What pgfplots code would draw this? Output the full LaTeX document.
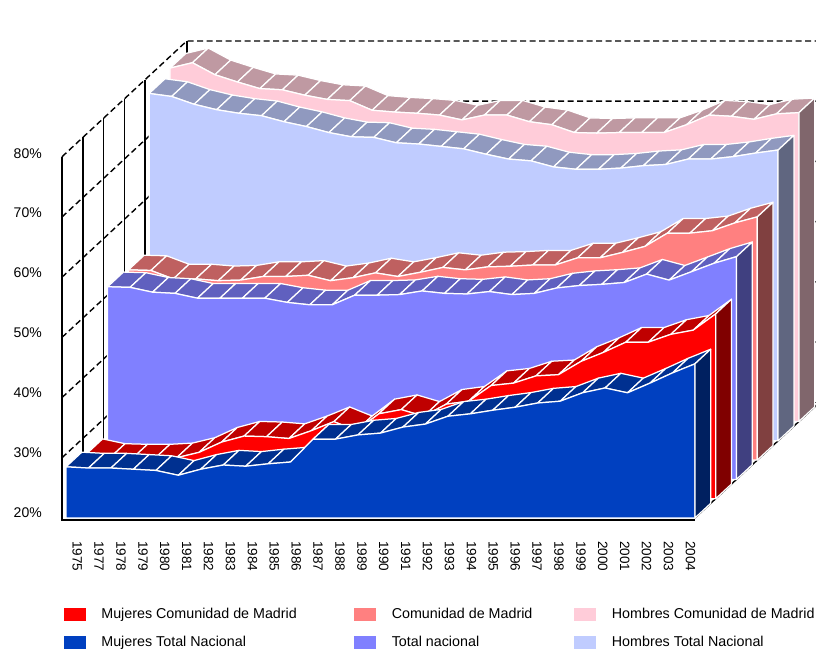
\documentclass[border=0pt]{standalone}
\usepackage{fontspec}
\setmainfont{Liberation Sans}
\usepackage{pgfplots}
\usepackage{pgfplotstable}
\pgfplotsset{compat=1.18}
\definecolor{cPink}{HTML}{FFCCD9}\definecolor{tPink}{HTML}{BF99A2}\definecolor{sPink}{HTML}{80666C}
\definecolor{cLBlue}{HTML}{C0CCFF}\definecolor{tLBlue}{HTML}{9099BF}\definecolor{sLBlue}{HTML}{606680}
\definecolor{cSalm}{HTML}{FF8080}\definecolor{tSalm}{HTML}{BF6060}\definecolor{sSalm}{HTML}{804040}
\definecolor{cViol}{HTML}{8080FF}\definecolor{tViol}{HTML}{6060BF}\definecolor{sViol}{HTML}{404080}
\definecolor{cRed}{HTML}{FF0000}\definecolor{tRed}{HTML}{BF0000}\definecolor{sRed}{HTML}{800000}
\definecolor{cBlue}{HTML}{0040C0}\definecolor{tBlue}{HTML}{003090}\definecolor{sBlue}{HTML}{002060}
\pgfplotstableread{
i mt mm tn cm ht hm
0 28.5 27.5 52.0 51.6 77.7 78.7
1 28.3 26.7 51.9 51.5 77.2 79.6
2 28.3 26.6 51.1 50.1 75.9 77.6
3 28.1 26.6 50.9 50.1 75.0 76.4
4 27.9 26.8 50.1 49.8 74.4 75.3
5 27.1 27.7 50.1 49.9 74.0 75.1
6 28.1 29.4 50.1 50.5 73.0 74.2
7 28.8 30.4 50.1 50.5 72.2 73.5
8 28.6 30.3 49.4 50.7 71.2 73.3
9 29.0 30.0 49.0 49.8 70.5 71.7
10 29.3 31.3 49.0 50.3 70.4 71.4
11 33.1 32.8 50.6 51.1 69.5 71.2
12 33.1 31.3 50.6 50.5 69.3 70.9
13 33.8 34.1 50.7 51.2 68.9 70.1
14 34.1 34.8 51.3 52.0 68.5 70.9
15 35.1 33.7 50.9 51.6 67.6 70.9
16 35.6 35.7 50.8 52.1 66.8 69.8
17 36.9 36.2 51.2 52.2 66.5 69.3
18 37.3 38.8 50.7 52.4 65.5 68.0
19 37.9 39.2 50.9 52.4 65.1 67.9
20 38.4 40.4 51.8 53.6 65.1 68.0
21 39.1 40.6 52.2 53.6 65.3 68.0
22 39.4 42.8 52.4 54.5 65.7 68.0
23 40.8 44.3 52.7 55.5 65.9 69.3
24 41.6 46.0 54.1 57.7 66.8 70.9
25 40.8 46.0 53.1 57.7 66.8 70.7
26 42.4 47.3 54.5 58.1 67.2 70.2
27 44.1 48.0 55.9 59.4 67.8 71.1
28 45.6 50.7 57.0 60.4 68.3 71.3
}\datatable
\newcommand\series[5]{% column, depth, face, top, side
  \pgfmathsetmacro\kb{#2+0.76}
  \pgfplotsforeachungrouped \i in {0,...,27}{%
    \pgfmathtruncatemacro\j{\i+1}%
    \pgfplotstablegetelem{\i}{#1}\of\datatable\let\va\pgfplotsretval
    \pgfplotstablegetelem{\j}{#1}\of\datatable\let\vb\pgfplotsretval
    \edef\temp{\noexpand\addplot3[fill=#4,draw=white,line width=1.25pt,line join=round,forget plot] coordinates {(\i,#2,\va)(\j,#2,\vb)(\j,\kb,\vb)(\i,\kb,\va)} -- cycle;}%
    \temp
  }%
  \addplot3[fill=#3,draw=white,line width=1.25pt,line join=round,forget plot] table[x=i,y expr=#2,z=#1]{\datatable} -- (axis cs:28,#2,20) -- (axis cs:0,#2,20) -- cycle;
  \edef\temp{\noexpand\addplot3[fill=#5,draw=white,line width=1.25pt,line join=round,forget plot] coordinates {(28,#2,20)(28,\kb,20)(28,\kb,\vb)(28,#2,\vb)} -- cycle;}%
  \temp
}
\begin{document}
\begin{tikzpicture}
\useasboundingbox (0pt,0pt) rectangle (816pt,-650pt);
\begin{axis}[
  anchor=origin, at={(66pt,-638.4pt)},
  x={(22.46pt,0pt)}, y={(20.8pt,19.3pt)}, z={(0pt,6.02pt)},
  xmin=0, xmax=28, ymin=0, ymax=6, zmin=0, zmax=90,
  hide axis, clip=false,
  font=\fontsize{14}{16}\selectfont,
  legend columns=3,
  legend cell align=left,
  legend style={at={(axis cs:-0.1,0,0)},anchor=north west,draw=none,fill=none,inner sep=0pt,
    yshift=31pt,
    row sep=16pt,
    font=\fontsize{14.3}{16}\selectfont,
    /tikz/column 2/.style={column sep=57.5pt},
    /tikz/column 4/.style={column sep=42pt},
    nodes={inner sep=0pt,anchor=west}},
]
% grid
\pgfplotsinvokeforeach{30,40,50,60,70,80}{
  \addplot3[black,line width=1.4pt,dash pattern=on 6pt off 3.5pt,forget plot] coordinates {(-0.18,0,#1)(-0.18,6,#1)(28,6,#1)};
}
\pgfplotsinvokeforeach{1,2,3,4,6}{
  \addplot3[black,line width=1.7pt,forget plot] coordinates {(-0.18,#1,19.7)(-0.18,#1,80)};
}
\addplot3[black,line width=1.4pt,forget plot] coordinates {(-0.18,6,20)(28,6,20)};
\addplot3[black,line width=1.4pt,forget plot] coordinates {(28,0,20)(28,6,20)};
\addplot3[black,line width=2pt,forget plot] coordinates {(-0.18,0,80)(-0.18,0,19.7)(28,0,19.7)};
\series{hm}{5}{cPink}{tPink}{sPink}
\series{ht}{4}{cLBlue}{tLBlue}{sLBlue}
\series{cm}{3}{cSalm}{tSalm}{sSalm}
\series{tn}{2}{cViol}{tViol}{sViol}
\series{mm}{1}{cRed}{tRed}{sRed}
\series{mt}{0}{cBlue}{tBlue}{sBlue}
% value labels
\pgfplotsinvokeforeach{20,30,40,50,60,70,80}{
  \node[anchor=east,inner sep=0pt] at (axis cs:-1.07,0,#1+0.9-0.005*#1+0.1) {#1\%};
}
% category labels
\foreach \p/\y in {0/1975,1/1977,2/1978,3/1979,4/1980,5/1981,6/1982,7/1983,8/1984,9/1985,10/1986,11/1987,12/1988,13/1989,14/1990,15/1991,16/1992,17/1993,18/1994,19/1995,20/1996,21/1997,22/1998,23/1999,24/2000,25/2001,26/2002,27/2003,28/2004}{
  \edef\temp{\noexpand\node[rotate=-90,anchor=west,inner sep=0pt,font=\noexpand\fontsize{13.5}{15}\noexpand\selectfont] at (axis cs:\p*0.975+0.5,0,16.2) {\y};}
  \temp
}
\addlegendimage{legend image code/.code={\fill[cRed] (0pt,-6pt) rectangle (21pt,6pt);}}
\addlegendentry{\hspace{16pt}Mujeres Comunidad de Madrid}
\addlegendimage{legend image code/.code={\fill[cSalm] (0pt,-6pt) rectangle (21pt,6pt);}}
\addlegendentry{\hspace{16pt}Comunidad de Madrid}
\addlegendimage{legend image code/.code={\fill[cPink] (0pt,-6pt) rectangle (21pt,6pt);}}
\addlegendentry{\hspace{16pt}Hombres Comunidad de Madrid}
\addlegendimage{legend image code/.code={\fill[cBlue] (0pt,-6pt) rectangle (21pt,6pt);}}
\addlegendentry{\hspace{16pt}Mujeres Total Nacional}
\addlegendimage{legend image code/.code={\fill[cViol] (0pt,-6pt) rectangle (21pt,6pt);}}
\addlegendentry{\hspace{16pt}Total nacional}
\addlegendimage{legend image code/.code={\fill[cLBlue] (0pt,-6pt) rectangle (21pt,6pt);}}
\addlegendentry{\hspace{16pt}Hombres Total Nacional}
\end{axis}
\end{tikzpicture}
\end{document}
